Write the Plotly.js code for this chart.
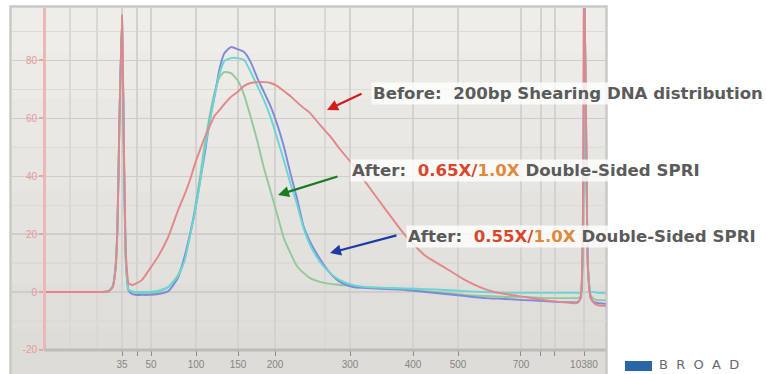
<!DOCTYPE html>
<html>
<head>
<meta charset="utf-8">
<script src="https://cdn.plot.ly/plotly-3.0.1.min.js"></script>
<style>
  html, body { margin: 0; padding: 0; background: #ffffff; }
  #chart { width: 766px; height: 374px; }
</style>
</head>
<body>
<div id="chart"></div>
<script>
// Migration time (s) of each sample point
const times = [31.2, 35, 38, 40, 41, 41.6, 42.0, 42.3, 42.6, 43.0, 43.3, 43.6, 44.0, 44.5, 45, 46, 47, 48.5, 50, 51.5,
  52.5, 53.3, 54, 54.8, 55.5, 56.3, 57, 57.8, 58.5, 59.5, 60.5, 61.5, 62.5, 63.5, 64.5, 65.5, 66.5, 67.5, 68.5, 69.5,
  70.5, 71.5, 73, 74.5, 76, 78, 80, 83, 86, 89, 92, 95, 98, 101, 104, 107, 109.5, 111, 112, 112.5,
  113, 113.3, 113.6, 114, 114.5, 115, 116.3];

// Fluorescence (FU) – Before: 200bp shearing DNA distribution (red)
const before200bp = [0, 0, 0, 0, 0.3, 1.7, 7.6, 21, 59, 95.7, 49, 12.8, 3.1, 2.4, 2.8, 4.1, 7.3, 12.4, 19, 28.3,
  33.8, 38.7, 43.9, 49, 53.2, 57.3, 60.8, 62.9, 64.9, 67.4, 69.1, 71.2, 72.2, 72.5, 72.5, 72.2, 71.2, 69.4, 67.7, 65.6,
  63.6, 61.8, 57.7, 53.9, 49.4, 43.9, 37.6, 28.3, 19.3, 12.4, 8.3, 4.1, 1.0, -0.7, -1.7, -2.8, -3.5, -3.8, -3.8, -2,
  110, 60, 8, -2, -3.8, -4.5, -4.8];

// After double-sided SPRI (blue)
const afterBlue = [0, 0, 0, 0, 0.3, 2, 8, 22, 58, 95, 45, 10, 0.5, -0.7, -1.0, -1.0, -1.0, -0.7, 0.3, 5,
  12.5, 20, 27.3, 38, 47.3, 59.4, 67.4, 77.4, 82.5, 84.6, 83.9, 82.9, 79.4, 73.9, 69.1, 64.2, 58, 50.4, 41.1, 32.5,
  22.8, 17.3, 11.4, 6.6, 3.5, 1.7, 1.4, 1.0, 0.7, 0, -0.7, -1.4, -2.1, -2.4, -2.8, -3.1, -3.5, -3.5, -3.5, -2,
  110, 60, 8, -2, -3.5, -3.8, -4.1];

// After double-sided SPRI (cyan)
const afterCyan = [0, 0, 0, 0, 0.3, 2, 8, 22, 58, 95, 45, 10, 0.7, 0.3, 0, 0, 0, 0.5, 1.7, 5.5,
  11, 19.3, 26.9, 37.6, 49, 59, 67.4, 75.6, 79.8, 80.8, 80.8, 80.1, 76, 71.2, 66.3, 60.4, 53.2, 45.6, 37.6, 30.4,
  22.1, 16.2, 10.4, 6.6, 4.1, 2.4, 1.7, 1.4, 1.2, 1.0, 0.7, 0.3, 0, -0.3, -0.3, -0.3, -0.3, -0.3, -0.3, -0.5,
  110, 60, 8, 0, 0, -0.3, -0.3];

// After double-sided SPRI (green)
const afterGreen = [0, 0, 0, 0, 0.3, 2, 8, 22, 58, 95, 45, 10, 0.7, 0, -0.3, -0.7, -0.7, 0, 1.7, 5.9,
  11.7, 19.7, 28.3, 39.4, 50.8, 61.1, 68.7, 74.3, 76, 75.6, 73.2, 68, 60.4, 52.2, 42.8, 34.9, 26.9, 18.7, 13.5, 9,
  6.6, 4.8, 3.5, 2.8, 2.4, 2.1, 1.7, 1.4, 1.0, 0.3, -0.3, -1.0, -1.4, -1.7, -1.7, -2.1, -2.1, -2.1, -2.1, -1.5,
  110, 60, 8, -1, -2.4, -2.8, -2.8];

// Ladder sizes (bp) at their migration times
const tickTimes  = [43, 45.27, 47.39, 54.21, 60.58, 66.18, 77.55, 87.09, 93.91, 103.45, 106.48, 108.6, 113];
const tickLabels = ['35', '', '50', '100', '150', '200', '300', '400', '500', '700', '', '', '10380'];
const minorTimes = [35.12, 39.21, 73.76];
const yTicks = [-20, 0, 20, 40, 60, 80];

const lineStyle = (c) => ({ color: c, width: 1.9, shape: 'spline', smoothing: 0.5 });
const traces = [
  { x: times, y: afterGreen, type: 'scatter', mode: 'lines', line: lineStyle('#93c89d'), hoverinfo: 'skip' },
  { x: times, y: afterBlue, type: 'scatter', mode: 'lines', line: lineStyle('#7f89db'), hoverinfo: 'skip' },
  { x: times, y: afterCyan, type: 'scatter', mode: 'lines', line: lineStyle('#68d6d3'), hoverinfo: 'skip' },
  { x: times, y: before200bp, type: 'scatter', mode: 'lines', line: lineStyle('#e3868a'), hoverinfo: 'skip' }
];

// plot area: left 12px, right 606px, top 8px, bottom 350px
const W = 594, H = 342;
const px = (p) => (p - 12) / W;
const py = (p) => (350 - p) / H;

const shapes = [];
// background panel with slight vertical gradient
const bands = 8;
for (let i = 0; i < bands; i++) {
  const top = 6 + i * (370 / bands), bot = 6 + (i + 1) * (370 / bands);
  const c0 = [238, 237, 233], c1 = [222, 220, 215];
  const f = i / (bands - 1);
  const c = c0.map((v, k) => Math.round(v + (c1[k] - v) * f));
  shapes.push({ type: 'rect', xref: 'paper', yref: 'paper', x0: px(11), x1: px(606), y0: py(bot + 0.5), y1: py(top),
    fillcolor: `rgb(${c.join(',')})`, line: { width: 0 }, layer: 'below' });
}
// frame border
shapes.push({ type: 'rect', xref: 'paper', yref: 'paper', x0: px(10.5), x1: px(606.5), y0: py(380), y1: py(6.5),
  fillcolor: 'rgba(0,0,0,0)', line: { color: '#c9c9c9', width: 2.5 }, layer: 'below' });
// x axis line
shapes.push({ type: 'line', xref: 'x', yref: 'paper', x0: 31.2, x1: 116.33, y0: 0, y1: 0,
  line: { color: '#bebcb7', width: 3 }, layer: 'above' });
// logo block
shapes.push({ type: 'rect', xref: 'paper', yref: 'paper', x0: px(625), x1: px(652), y0: py(371), y1: py(361),
  fillcolor: '#2a66a6', line: { width: 0 } });

const txt = { family: 'DejaVu Sans', size: 16.6, color: '#5b5b5b', weight: 'bold' };
const sp = '\u00a0\u00a0';
const annotations = [
  { xref: 'paper', yref: 'paper', x: px(371), y: py(93.5), xanchor: 'left', yanchor: 'middle', showarrow: false,
    text: '<b>Before:' + sp + '200bp Shearing DNA distribution</b>', font: txt,
    bgcolor: 'rgba(255,255,255,0.8)', borderpad: 1 },
  { xref: 'paper', yref: 'paper', x: px(350), y: py(170), xanchor: 'left', yanchor: 'middle', showarrow: false,
    text: '<b>After:' + sp + '<span style="color:#d8472c">0.65X/</span><span style="color:#de8a3e">1.0X</span> Double-Sided SPRI</b>',
    font: txt, bgcolor: 'rgba(255,255,255,0.8)', borderpad: 1 },
  { xref: 'paper', yref: 'paper', x: px(406), y: py(236), xanchor: 'left', yanchor: 'middle', showarrow: false,
    text: '<b>After:' + sp + '<span style="color:#d8472c">0.55X/</span><span style="color:#de8a3e">1.0X</span> Double-Sided SPRI</b>',
    font: txt, bgcolor: 'rgba(255,255,255,0.8)', borderpad: 1 },
  // arrows
  { xref: 'paper', yref: 'paper', x: px(327), y: py(110), ax: 36, ay: -17, text: '', showarrow: true,
    arrowhead: 2, arrowsize: 1, arrowwidth: 2.2, arrowcolor: '#d41a1a' },
  { xref: 'paper', yref: 'paper', x: px(278), y: py(195), ax: 61, ay: -19, text: '', showarrow: true,
    arrowhead: 2, arrowsize: 1, arrowwidth: 2.2, arrowcolor: '#1c7a22' },
  { xref: 'paper', yref: 'paper', x: px(330), y: py(253), ax: 68, ay: -18, text: '', showarrow: true,
    arrowhead: 2, arrowsize: 1, arrowwidth: 2.2, arrowcolor: '#1d3ba8' },
  // logo text
  { xref: 'paper', yref: 'paper', x: px(657), y: py(365), xanchor: 'left', yanchor: 'middle', showarrow: false,
    text: 'B\u00a0\u00a0R\u00a0\u00a0O\u00a0\u00a0A\u00a0\u00a0D', font: { family: 'DejaVu Sans', size: 13, color: '#6a6a6a' } }
];

const layout = {
  width: 766, height: 374,
  margin: { l: 12, r: 160, t: 8, b: 24, pad: 0 },
  paper_bgcolor: '#ffffff',
  plot_bgcolor: 'rgba(0,0,0,0)',
  showlegend: false,
  xaxis: {
    range: [26.33, 116.33], tickmode: 'array', tickvals: tickTimes, ticktext: tickLabels,
    ticks: 'outside', ticklen: 5, tickwidth: 1, tickcolor: '#8a8a8a',
    tickfont: { family: 'Liberation Sans', size: 10, color: '#858585' },
    showgrid: true, gridcolor: '#d4d2ce', gridwidth: 1.2, zeroline: false, showline: false,
    minor: { tickmode: 'array', tickvals: minorTimes, showgrid: true, gridcolor: '#dad8d4', ticks: '' },
    fixedrange: true
  },
  yaxis: {
    range: [-20.03, 98.1], tickmode: 'array', tickvals: yTicks, ticktext: yTicks.map(String),
    anchor: 'free', position: px(44), side: 'left',
    showline: true, linecolor: '#ebb7b7', linewidth: 3,
    ticks: 'outside', ticklen: 4, tickwidth: 2, tickcolor: '#e6a5a5',
    tickfont: { family: 'Liberation Sans', size: 10, color: '#e49a9a' },
    showgrid: true, gridcolor: '#cfcdc9', gridwidth: 1.3, zeroline: false,
    minor: { dtick: 10, showgrid: true, gridcolor: '#dcdad6', ticks: '' },
    fixedrange: true
  },
  shapes: shapes,
  annotations: annotations
};

Plotly.newPlot('chart', traces, layout, { staticPlot: true, displayModeBar: false });
</script>
</body>
</html>
